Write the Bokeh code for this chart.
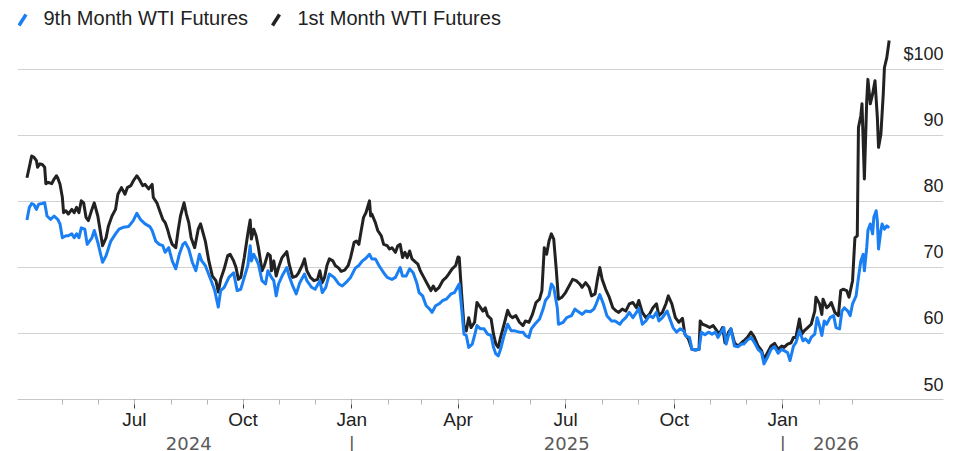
import pandas as pd
from bokeh.plotting import figure
from bokeh.layouts import column
from bokeh.models import (Range1d, FixedTicker, Grid, Label, Arrow, ColumnDataSource)
from bokeh.core.properties import value
from bokeh.embed import file_html
from bokeh.resources import INLINE

# ---------------- data ----------------
start_date = "2024-04-01"   # day 0 of the series below

days_1st = [0, 2, 4, 6, 8, 9, 11, 13, 15, 16, 18, 21, 23, 25, 26, 28, 30, 31, 33, 35,
            38, 40, 42, 44, 46, 48, 50, 52, 55, 57, 60, 62, 64, 67, 69, 72, 75, 77, 80, 83,
            85, 88, 90, 93, 95, 98, 100, 103, 106, 107, 110, 112, 115, 117, 119, 121, 123, 126, 128, 130,
            133, 135, 137, 139, 142, 145, 147, 149, 151, 154, 157, 160, 162, 164, 167, 170, 172, 175, 177, 179,
            181, 184, 187, 189, 190, 192, 194, 196, 199, 201, 204, 206, 207, 209, 211, 213, 216, 220, 222, 225,
            228, 230, 233, 235, 237, 240, 243, 246, 248, 250, 252, 254, 256, 259, 261, 264, 266, 269, 272, 274,
            277, 279, 281, 283, 285, 287, 290, 291, 292, 295, 297, 300, 302, 305, 307, 309, 312, 314, 316, 318,
            320, 322, 324, 326, 329, 331, 333, 336, 339, 342, 344, 346, 349, 352, 355, 357, 360, 363, 365, 366,
            368, 370, 372, 374, 376, 379, 381, 383, 386, 388, 390, 393, 395, 397, 399, 401, 404, 407, 409, 411,
            414, 417, 420, 422, 425, 428, 431, 434, 436, 438, 440, 442, 444, 446, 448, 450, 453, 456, 459, 462,
            465, 468, 470, 473, 476, 478, 481, 483, 485, 487, 490, 493, 496, 499, 501, 504, 507, 510, 513, 516,
            518, 521, 524, 527, 530, 533, 535, 538, 541, 543, 546, 549, 552, 555, 557, 560, 563, 566, 569, 570,
            572, 575, 578, 581, 583, 586, 589, 591, 594, 596, 599, 602, 605, 607, 610, 613, 616, 619, 622, 624,
            627, 630, 633, 636, 639, 641, 644, 647, 649, 651, 654, 656, 658, 661, 664, 667, 668, 671, 673, 674,
            677, 679, 681, 684, 687, 689, 691, 694, 696, 699, 701, 703, 704, 706, 707, 709, 711, 712, 714, 716,
            718, 720, 721, 723, 725, 726, 728, 730]
wti_1st = [83.6, 85.2, 86.9, 86.7, 86.2, 85.2, 85.7, 85.6, 85.2, 82.7, 82.9, 82.7, 83.4, 83.9, 83.6, 82.6, 80.6, 78.3, 78.6, 78.1,
           78.8, 78.3, 79.1, 78.3, 80.1, 79.8, 77.6, 77.1, 78.8, 79.8, 77.8, 75.6, 73.3, 74.5, 76.3, 77.8, 78.8, 81.1, 82.1, 81.1,
           82.1, 82.4, 83.1, 83.9, 83.4, 82.4, 82.6, 81.9, 82.6, 80.6, 79.8, 78.8, 77.3, 76.8, 75.8, 74.5, 73.5, 73.0, 75.6, 77.8,
           79.8, 78.1, 76.8, 74.5, 73.0, 75.8, 76.6, 75.3, 74.0, 71.0, 68.7, 68.0, 66.3, 68.2, 69.8, 71.8, 72.0, 71.0, 70.0, 68.2,
           68.5, 71.5, 75.1, 77.2, 74.3, 75.8, 74.8, 73.0, 69.5, 70.3, 72.1, 71.8, 69.5, 71.0, 68.7, 70.0, 71.5, 72.4, 70.5, 68.5,
           68.7, 69.2, 70.3, 71.3, 69.5, 68.5, 68.0, 68.2, 69.5, 67.7, 68.5, 70.3, 71.3, 71.0, 70.3, 69.9, 69.4, 69.6, 70.3, 71.5,
           73.8, 74.0, 73.5, 75.6, 77.6, 78.3, 80.1, 77.8, 78.1, 76.8, 75.6, 74.8, 73.5, 73.3, 72.8, 73.0, 72.3, 73.3, 73.5, 71.5,
           72.3, 71.5, 72.5, 71.3, 70.8, 70.5, 69.5, 68.5, 67.5, 66.5, 67.2, 66.5, 67.0, 68.0, 68.5, 69.0, 69.8, 70.3, 71.6, 71.5,
           66.0, 61.2, 60.4, 62.4, 60.9, 61.7, 64.7, 64.2, 63.4, 63.9, 62.7, 62.2, 59.9, 58.4, 57.9, 59.4, 61.4, 63.5, 62.7, 62.4,
           62.7, 61.7, 61.2, 61.9, 61.7, 62.9, 64.7, 65.2, 66.5, 73.0, 72.0, 74.0, 75.1, 74.3, 70.0, 65.2, 65.5, 66.2, 67.2, 68.2,
           68.0, 67.5, 67.0, 67.7, 67.0, 65.7, 66.0, 68.2, 70.0, 68.2, 66.7, 65.5, 63.9, 63.4, 63.2, 63.7, 63.4, 64.5, 64.7, 63.9,
           65.0, 63.2, 62.4, 62.9, 63.9, 64.5, 62.7, 63.2, 64.5, 65.7, 64.5, 62.4, 61.7, 62.3, 59.9, 59.2, 57.6, 57.5, 57.6, 61.9,
           61.4, 61.2, 60.9, 61.2, 60.7, 59.9, 60.9, 58.6, 60.2, 60.7, 58.6, 58.1, 58.6, 58.9, 59.4, 60.2, 59.4, 58.1, 57.4, 56.1,
           57.1, 58.1, 58.5, 57.6, 58.1, 57.9, 58.4, 58.6, 59.4, 59.4, 62.2, 59.9, 60.4, 60.9, 61.4, 63.4, 65.5, 64.5, 62.9, 65.2,
           63.9, 64.2, 64.7, 63.2, 62.7, 66.5, 66.7, 66.5, 65.5, 68.0, 74.5, 74.8, 91.2, 93.0, 94.8, 83.4, 95.3, 98.5, 94.8, 96.3,
           98.3, 92.7, 88.2, 90.2, 96.3, 100.3, 101.8, 104.4]

days_9th = [0, 2, 4, 6, 8, 10, 13, 15, 17, 20, 23, 26, 28, 30, 33, 35, 38, 40, 42, 44,
            46, 49, 51, 55, 57, 60, 64, 67, 71, 75, 78, 82, 86, 90, 93, 96, 100, 104, 106, 109,
            112, 115, 117, 120, 123, 126, 129, 132, 134, 137, 140, 143, 146, 148, 151, 156, 159, 162, 164, 167,
            171, 175, 178, 181, 184, 187, 189, 190, 192, 194, 196, 199, 202, 204, 207, 209, 211, 213, 216, 220,
            222, 225, 228, 231, 235, 237, 241, 244, 248, 250, 253, 256, 260, 264, 267, 270, 274, 278, 281, 284,
            287, 290, 292, 295, 298, 302, 305, 309, 312, 316, 318, 321, 324, 327, 330, 332, 335, 338, 341, 343,
            346, 349, 352, 355, 359, 362, 365, 366, 368, 370, 372, 374, 377, 379, 381, 384, 387, 390, 393, 395,
            397, 399, 401, 404, 407, 410, 413, 417, 420, 422, 425, 427, 430, 434, 437, 439, 442, 444, 446, 449,
            450, 454, 457, 461, 464, 466, 470, 473, 477, 480, 482, 485, 488, 491, 495, 498, 502, 504, 507, 510,
            513, 516, 518, 521, 524, 527, 530, 533, 535, 538, 542, 544, 547, 550, 553, 556, 558, 561, 563, 566,
            569, 571, 574, 577, 580, 583, 585, 590, 592, 594, 596, 599, 602, 605, 607, 610, 613, 616, 619, 622,
            624, 627, 630, 633, 636, 639, 641, 644, 646, 649, 651, 654, 657, 659, 662, 664, 667, 669, 671, 673,
            675, 677, 680, 683, 685, 688, 690, 692, 695, 697, 699, 702, 704, 706, 708, 709, 711, 712, 714, 716,
            717, 719, 720, 721, 723, 724, 726, 728, 730]
wti_9th = [77.2, 79.1, 79.7, 79.5, 78.8, 79.6, 79.7, 79.8, 77.8, 77.3, 77.8, 77.3, 76.6, 74.5, 74.8, 74.8, 75.1, 74.5, 75.1, 74.5,
           76.0, 75.8, 73.5, 74.5, 75.6, 73.8, 70.8, 71.8, 74.0, 75.1, 75.8, 76.1, 76.2, 77.1, 78.2, 77.3, 76.6, 76.2, 75.6, 74.0,
           73.5, 73.3, 72.3, 73.0, 71.0, 69.8, 72.0, 73.5, 73.8, 72.8, 70.8, 69.5, 72.0, 71.0, 70.3, 68.0, 66.5, 64.0, 66.5, 67.0,
           68.5, 69.2, 66.5, 66.7, 68.5, 70.3, 73.3, 71.0, 72.0, 71.3, 70.5, 68.0, 67.5, 69.5, 68.5, 68.0, 65.7, 67.5, 68.7, 70.0,
           68.7, 67.2, 66.0, 67.7, 69.0, 68.0, 67.0, 66.7, 68.0, 66.2, 67.0, 69.0, 68.5, 67.5, 67.2, 67.7, 68.5, 69.9, 70.3, 71.0,
           71.4, 72.0, 71.3, 71.3, 70.3, 69.2, 68.5, 68.2, 68.5, 70.0, 68.7, 68.7, 69.8, 69.2, 67.7, 66.2, 65.7, 64.2, 63.7, 63.2,
           64.2, 64.5, 65.0, 65.2, 66.0, 66.2, 67.2, 67.5, 63.9, 59.9, 59.7, 57.9, 58.4, 59.7, 61.2, 60.7, 60.7, 59.9, 59.7, 57.9,
           56.9, 56.6, 57.6, 59.7, 61.4, 60.4, 60.4, 60.2, 60.2, 59.7, 59.4, 60.7, 61.4, 62.2, 63.7, 65.0, 65.7, 67.5, 67.0, 63.9,
           61.4, 61.7, 62.4, 62.7, 63.7, 63.4, 62.9, 63.4, 63.3, 63.7, 64.5, 65.9, 64.5, 62.7, 61.9, 61.9, 61.4, 61.9, 62.4, 63.2,
           62.4, 63.2, 63.8, 61.4, 61.9, 62.7, 62.4, 63.2, 61.9, 62.4, 63.4, 62.4, 60.9, 60.2, 60.7, 60.4, 59.6, 59.4, 57.6, 57.5,
           57.6, 60.2, 59.8, 60.2, 59.9, 60.2, 59.4, 60.9, 58.4, 59.7, 60.7, 58.1, 58.0, 58.4, 58.4, 59.0, 59.4, 58.6, 57.6, 57.1,
           55.4, 56.4, 57.6, 58.0, 57.0, 57.6, 57.4, 57.1, 55.9, 58.1, 58.6, 60.4, 58.9, 59.2, 58.6, 59.4, 59.9, 62.4, 61.2, 59.7,
           61.9, 61.4, 62.4, 62.7, 60.9, 60.7, 63.4, 63.9, 63.4, 62.7, 64.5, 65.7, 68.5, 71.0, 72.0, 69.5, 73.0, 75.6, 76.6, 75.1,
           77.6, 78.6, 77.0, 72.8, 75.6, 76.6, 75.8, 76.3, 76.0]

series_names = ["9th Month WTI Futures", "1st Month WTI Futures"]

y_ticks = [50, 60, 70, 80, 90, 100]
y_tick_labels = ["50", "60", "70", "80", "90", "$100"]
grid_values = [60, 70, 80, 90, 100]

month_ticks = ["2024-07-01", "2024-10-01", "2025-01-01", "2025-04-01",
               "2025-07-01", "2025-10-01", "2026-01-01"]
month_labels = ["Jul", "Oct", "Jan", "Apr", "Jul", "Oct", "Jan"]
minor_start, minor_end = "2024-05-01", "2026-03-01"

year_ticks = ["2024-08-16", "2025-01-01", "2025-07-02", "2026-01-01", "2026-02-15"]
year_labels = ["2024", "|", "2025", "|", "2026"]

# ---------------- helpers ----------------
def ms(d):
    return float(pd.Timestamp(d).value // 10**6)

t0 = pd.Timestamp(start_date)
x_1st = t0 + pd.to_timedelta(days_1st, unit="D")
x_9th = t0 + pd.to_timedelta(days_9th, unit="D")

BLUE = "#1a7ff3"
BLACK = "#222222"
FONT = "Liberation Sans"

x_start, x_end = "2024-03-24", "2026-05-17"
xr = Range1d(ms(x_start), ms(x_end))

p = figure(width=950, height=432, x_axis_type="datetime", y_axis_location=None,
           output_backend="svg", toolbar_location=None,
           x_range=xr, y_range=Range1d(50, 110.45),
           min_border_left=17, min_border_right=7, min_border_top=0, min_border_bottom=33)
p.outline_line_color = None
p.background_fill_color = "white"
p.border_fill_color = "white"
p.grid.visible = False

grid = Grid(dimension=1, ticker=FixedTicker(ticks=grid_values),
            grid_line_color="#d2d2d2", grid_line_width=1)
p.add_layout(grid)

# month axis
ax = p.xaxis[0]
ax.ticker = FixedTicker(ticks=[ms(d) for d in month_ticks],
                        minor_ticks=[ms(d) for d in pd.date_range(minor_start, minor_end, freq="MS")])
ax.major_label_overrides = {ms(d): lab for d, lab in zip(month_ticks, month_labels)}
ax.axis_line_color = "#c8c8c8"
ax.axis_line_width = 1
ax.major_tick_in = 0
ax.major_tick_out = 9
ax.minor_tick_in = 0
ax.minor_tick_out = 5
ax.major_tick_line_color = "#444444"
ax.minor_tick_line_color = "#b5b5b5"
ax.major_label_standoff = 0
ax.major_label_text_font = FONT
ax.major_label_text_font_size = "19px"
ax.major_label_text_color = "#222222"

# series
src1 = ColumnDataSource(dict(x=x_1st, y=wti_1st))
src9 = ColumnDataSource(dict(x=x_9th, y=wti_9th))
p.line("x", "y", source=src1, line_color=BLACK, line_width=3, line_join="round")
p.line("x", "y", source=src9, line_color=BLUE, line_width=3, line_join="round")

# right-side value labels, sitting above their grid lines
for v, lab in zip(y_ticks, y_tick_labels):
    p.add_layout(Label(x=ms(x_end), y=v, x_units="data", y_units="data", text=lab,
                       y_offset=15.5, text_align="right", text_baseline="middle",
                       text_font=FONT, text_font_size="18px", text_color="#222222"))

# legend (slashes + labels) in screen units of the frame
p.add_layout(Arrow(end=None, x_start=1.5, y_start=374, x_end=8.5, y_end=385,
                   start_units="screen", end_units="screen",
                   line_color=BLUE, line_width=3.5))
p.add_layout(Label(x=26, y=381.5, x_units="screen", y_units="screen", text=series_names[0],
                   text_font=FONT, text_font_size="20px", text_baseline="middle",
                   text_color="#222222"))
p.add_layout(Arrow(end=None, x_start=255, y_start=374, x_end=262, y_end=385,
                   start_units="screen", end_units="screen",
                   line_color=BLACK, line_width=3.5))
p.add_layout(Label(x=280, y=381.5, x_units="screen", y_units="screen", text=series_names[1],
                   text_font=FONT, text_font_size="20px", text_baseline="middle",
                   text_color="#222222"))

# year row: a thin strip sharing the x range, directly under the month labels
STRIP_H = 19
yrow = figure(width=950, height=STRIP_H, x_range=xr, y_range=Range1d(0, STRIP_H),
              x_axis_type="datetime", x_axis_location=None, y_axis_location=None,
              output_backend="svg", toolbar_location=None,
              min_border_left=17, min_border_right=7, min_border_top=0, min_border_bottom=0)
yrow.outline_line_color = None
yrow.grid.visible = False
ysrc = ColumnDataSource(dict(x=[ms(d) for d in year_ticks], y=[STRIP_H - 10.5] * len(year_ticks),
                             t=year_labels))
yrow.text("x", "y", text="t", source=ysrc, text_align="center", text_baseline="middle",
          text_font=value("DejaVu Sans"), text_font_size="18px", text_color="#5a5a5a")

layout = column(p, yrow, spacing=0)
open("out.html", "w").write(file_html(layout, INLINE))
